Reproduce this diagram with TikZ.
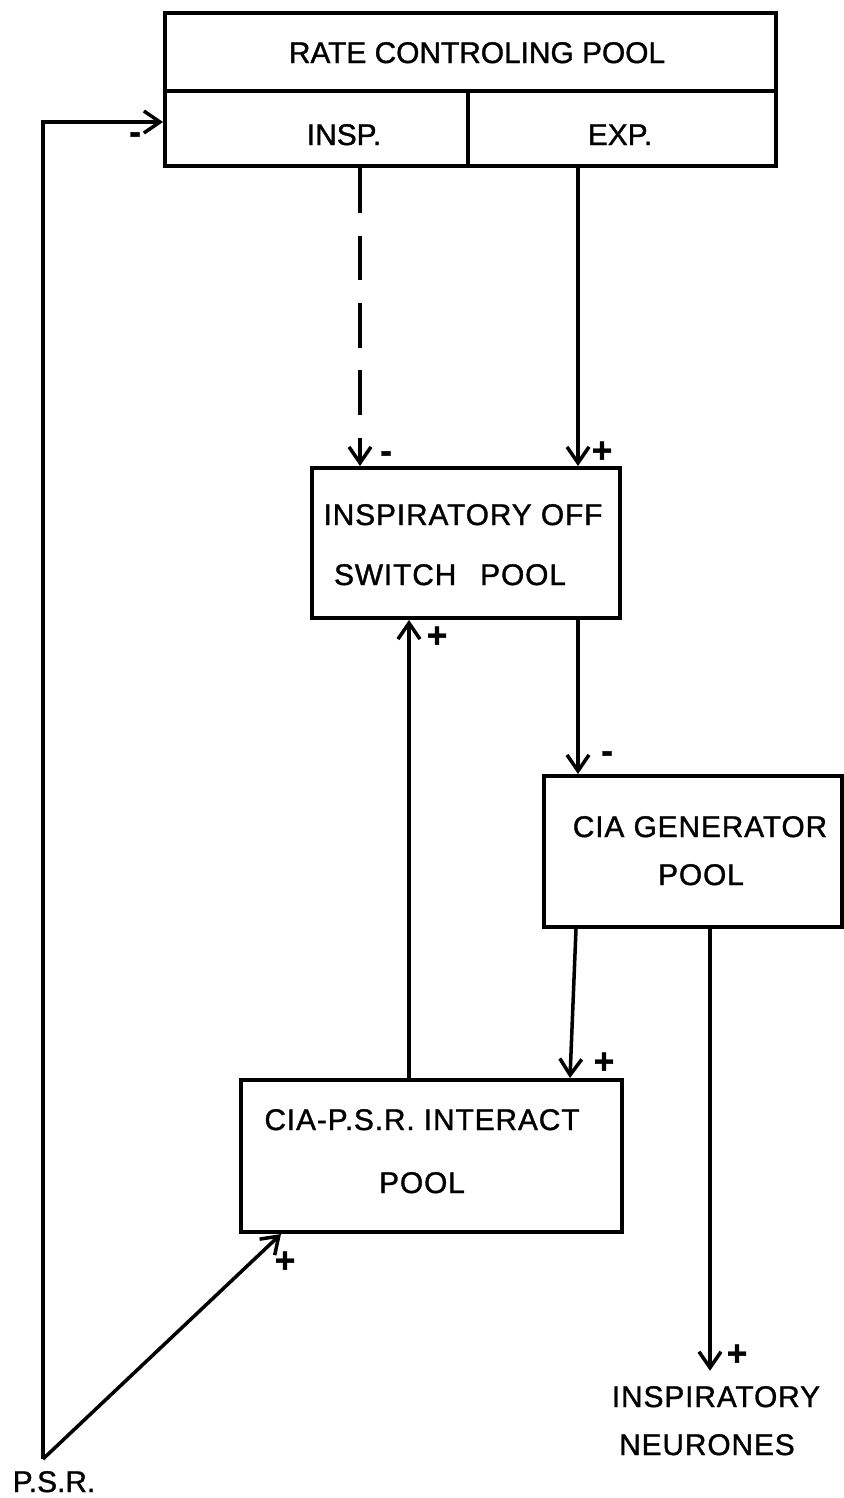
\documentclass[tikz,border=0pt]{standalone}
\usepackage{fontspec}
\setmainfont[FakeBold=1.2]{Liberation Sans}
\newfontfamily\plain[FakeBold=1.2]{Liberation Sans}
\newfontfamily\lsp[LetterSpace=3,FakeBold=1.2]{Liberation Sans}
\usetikzlibrary{arrows.meta}
\begin{document}
\begin{tikzpicture}[x=0.02cm,y=-0.02cm,
  box/.style={draw,line width=2.3pt,rectangle,inner sep=0pt},
  txt/.style={anchor=base,inner sep=0pt,font=\fontsize{17pt}{20pt}\selectfont\plain},
  ltxt/.style={anchor=base,inner sep=0pt,font=\fontsize{17pt}{20pt}\selectfont\lsp},
  sgn/.style={inner sep=0pt,font=\fontsize{20pt}{22pt}\selectfont\bfseries},
  conn/.style={line width=2pt,-{Straight Barb[length=3.2mm,width=4.4mm,line width=2pt]}},
  dsh/.style={dash pattern=on 0.9cm off 0.45cm}]
\useasboundingbox (0,0) rectangle (844,1498);
% boxes
\node[box,minimum width=12.22cm,minimum height=1.56cm] (rate) at (470.5,52) {};
\node[box,minimum width=6.06cm,minimum height=1.5cm] (insp) at (316.5,128.5) {};
\node[box,minimum width=6.16cm,minimum height=1.5cm] (exp) at (622,128.5) {};
\node[box,minimum width=6.16cm,minimum height=3.0cm] (isp) at (466,543) {};
\node[box,minimum width=5.96cm,minimum height=3.02cm] (gen) at (693,851.5) {};
\node[box,minimum width=7.62cm,minimum height=3.04cm] (cpsr) at (431.5,1156) {};
% texts
\node[txt] (ratetxt) at (477,63) {RATE CONTROLING POOL};
\node[txt] (insptxt) at (344,145) {INSP.};
\node[txt] (exptxt) at (620,145) {EXP.};
\node[ltxt] (isptxt1) at (463,525) {INSPIRATORY OFF};
\node[ltxt] (isptxt2) at (450,585) {SWITCH\hspace{0.8em}POOL};
\node[ltxt] (gentxt1) at (700,837) {CIA GENERATOR};
\node[ltxt] (gentxt2) at (701,885) {POOL};
\node[ltxt] (cpsrtxt1) at (422,1130) {CIA-P.S.R. INTERACT};
\node[ltxt] (cpsrtxt2) at (422,1193) {POOL};
\node[ltxt] (neur1) at (716,1407) {INSPIRATORY};
\node[ltxt] (neur2) at (707,1455) {NEURONES};
\node[txt] (psrtxt) at (54,1492) {P.S.R.};
% helper coordinates
\coordinate (psr) at (43,1459);
\coordinate (xdash) at (360,0);
\coordinate (xexp) at (578,0);
\coordinate (xup) at (409,0);
\coordinate (xg1) at (576,0);
\coordinate (xg2) at (570,0);
\coordinate (xneu) at (710,0);
\coordinate (xpsr) at (281,0);
% connectors
\draw[conn] (psr) |- ([yshift=0.13cm]insp.west);
\draw[conn,dsh] (insp.south -| xdash) -- (isp.north -| xdash);
\draw[conn] (exp.south -| xexp) -- (isp.north -| xexp);
\draw[conn] (isp.south -| xexp) -- (gen.north -| xexp);
\draw[conn] (cpsr.north -| xup) -- (isp.south -| xup);
\draw[conn] (gen.south -| xg1) -- (cpsr.north -| xg2);
\draw[conn,shorten >=0.3cm] (gen.south -| xneu) -- (neur1.north -| xneu);
\draw[conn] (psr) -- (cpsr.south -| xpsr);
% signs
\node[sgn] (s1) at (135,138) {-};
\node[sgn] (s2) at (386,457) {-};
\node[sgn] (s3) at (602,452) {+};
\node[sgn] (s4) at (437,637) {+};
\node[sgn] (s5) at (607,757) {-};
\node[sgn] (s6) at (604,1063) {+};
\node[sgn] (s7) at (737,1355) {+};
\node[sgn] (s8) at (285,1262) {+};
\end{tikzpicture}
\end{document}
